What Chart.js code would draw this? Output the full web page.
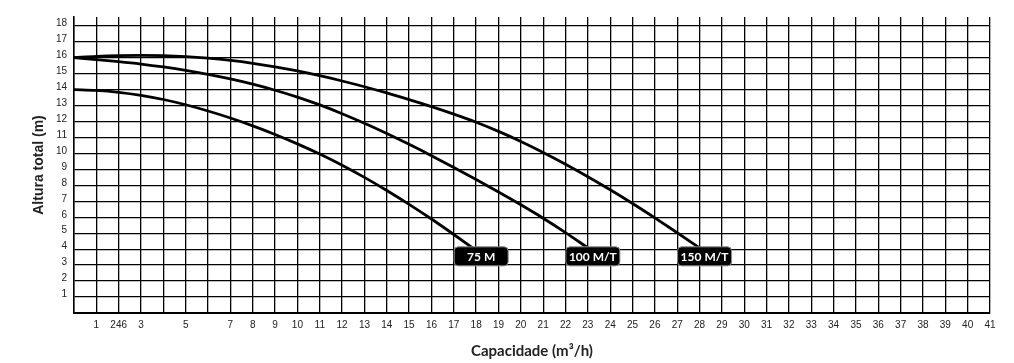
<!DOCTYPE html>
<html>
<head>
<meta charset="utf-8">
<script src="https://cdn.jsdelivr.net/npm/chart.js@4.4.1/dist/chart.umd.min.js"></script>
<style>
    html, body { margin: 0; padding: 0; background: #fff; }
    #wrap { width: 1014px; height: 363px; }
</style>
</head>
<body>
<div id="wrap"><canvas id="curvasChart" width="1014" height="363"></canvas></div>
<script>
// ========== DADOS ==========
const xTickLabels = ['', '1', '246', '3', '', '5', '', '7', '8', '9', '10', '11', '12', '13', '14', '15',
    '16', '17', '18', '19', '20', '21', '22', '23', '24', '25', '26', '27', '28', '29', '30', '31',
    '32', '33', '34', '35', '36', '37', '38', '39', '40', '41'];
const yTickLabels = ['', '1', '2', '3', '4', '5', '6', '7', '8', '9', '10', '11', '12', '13', '14',
    '15', '16', '17', '18'];

const modelos = ['75 M', '100 M/T', '150 M/T'];

const vazao75 = [0, 1, 2, 3, 4, 5, 6, 7, 8, 9, 10, 11, 12, 13, 14, 15, 16, 17, 18];
const altura75 = [14.0, 13.95, 13.83, 13.64, 13.38, 13.05, 12.66, 12.22, 11.73, 11.19, 10.6, 9.96,
    9.26, 8.5, 7.68, 6.81, 5.89, 4.92, 3.92];

const vazao100 = [0, 1, 2, 3, 4, 5, 6, 7, 8, 9, 10, 11, 12, 13, 14, 15, 16, 17, 18, 19, 20, 21, 22, 23];
const altura100 = [16.0, 15.88, 15.75, 15.6, 15.42, 15.21, 14.96, 14.67, 14.34, 13.96, 13.53, 13.04,
    12.49, 11.89, 11.25, 10.57, 9.86, 9.12, 8.36, 7.58, 6.78, 5.94, 5.04, 4.08];

const vazao150 = [0, 1, 2, 3, 4, 5, 6, 7, 8, 9, 10, 11, 12, 13, 14, 15, 16, 17, 18, 19, 20, 21,
    22, 23, 24, 25, 26, 27, 28];
const altura150 = [16.0, 16.08, 16.13, 16.15, 16.13, 16.07, 15.97, 15.83, 15.65, 15.43, 15.17, 14.87,
    14.54, 14.18, 13.79, 13.37, 12.93, 12.46, 11.95, 11.38, 10.75, 10.06, 9.32, 8.54, 7.72, 6.86,
    5.96, 5.03, 4.08];

function pontos(xs, ys) {
    return xs.map((x, i) => ({ x: x, y: ys[i] }));
}

// ========== ETIQUETAS DAS CURVAS ==========
// caixa preta com o nome do modelo, presa ao fim de cada curva
const etiquetasPlugin = {
    id: 'etiquetas',
    afterDatasetsDraw(chart) {
        const ctx = chart.ctx;
        const yBase = chart.scales.y.getPixelForValue(3.55);
        chart.data.datasets.forEach((ds, i) => {
            const meta = chart.getDatasetMeta(i);
            const ultimo = meta.data[meta.data.length - 1];
            const cx = ultimo.x + 5;
            const cy = yBase;
            const w = 54, h = 19;
            ctx.save();
            ctx.beginPath();
            ctx.roundRect(cx - w / 2, cy - h / 2, w, h, 4);
            ctx.fillStyle = '#000';
            ctx.fill();
            ctx.lineWidth = 1;
            ctx.strokeStyle = '#8a8a8a';
            ctx.stroke();
            ctx.fillStyle = '#fff';
            ctx.font = 'bold 12px Lato';
            ctx.textAlign = 'center';
            ctx.textBaseline = 'middle';
            ctx.fillText(ds.label, cx, cy + 0.5);
            ctx.restore();
        });
    }
};

function serie(label, xs, ys) {
    return {
        label: label,
        data: pontos(xs, ys),
        borderColor: '#000',
        borderWidth: 2.8,
        pointRadius: 0,
        fill: false,
        cubicInterpolationMode: 'monotone',
        borderCapStyle: 'round',
        borderJoinStyle: 'round'
    };
}

const ctx = document.getElementById('curvasChart');
new Chart(ctx.getContext('2d'), {
    type: 'line',
    data: {
        datasets: [
            serie(modelos[0], vazao75, altura75),
            serie(modelos[1], vazao100, altura100),
            serie(modelos[2], vazao150, altura150)
        ]
    },
    options: {
        responsive: false,
        animation: false,
        devicePixelRatio: 1,
        layout: { padding: { top: 17, right: 24, left: 0, bottom: 0 } },
        plugins: {
            legend: { display: false },
            tooltip: { enabled: false }
        },
        scales: {
            x: {
                type: 'linear',
                min: 0,
                max: 41,
                afterBuildTicks: (scale) => {
                    scale.ticks = xTickLabels.map((l, i) => ({ value: i }));
                },
                afterFit: (scale) => { scale.height = 50; },
                ticks: {
                    autoSkip: false,
                    maxRotation: 0,
                    padding: 6,
                    color: '#222',
                    font: { size: 10, family: 'Liberation Sans' },
                    callback: (value, index) => xTickLabels[index]
                },
                grid: { color: '#000', lineWidth: 1.3, drawTicks: false },
                border: { color: '#000', width: 2 },
                title: {
                    display: true,
                    text: 'Capacidade (m³/h)',
                    color: '#222',
                    font: { size: 15, weight: 'bold', family: 'Lato', lineHeight: 1.2 },
                    padding: { top: 0, bottom: 3 }
                }
            },
            y: {
                type: 'linear',
                min: 0,
                max: 18.55,
                afterBuildTicks: (scale) => {
                    scale.ticks = yTickLabels.map((l, i) => ({ value: i }));
                },
                afterFit: (scale) => { scale.width = 74; },
                ticks: {
                    autoSkip: false,
                    padding: 7,
                    labelOffset: -2.5,
                    color: '#222',
                    font: { size: 10, family: 'Liberation Sans' },
                    callback: (value, index) => yTickLabels[index]
                },
                grid: { color: '#000', lineWidth: 1.3, drawTicks: false },
                border: { color: '#000', width: 1.5 },
                title: {
                    display: true,
                    text: 'Altura total (m)',
                    color: '#222',
                    font: { size: 14, weight: 'bold', family: 'Liberation Sans', lineHeight: 1.2 },
                    padding: { top: 31, bottom: 0 }
                }
            }
        }
    },
    plugins: [etiquetasPlugin]
});
</script>
</body>
</html>
